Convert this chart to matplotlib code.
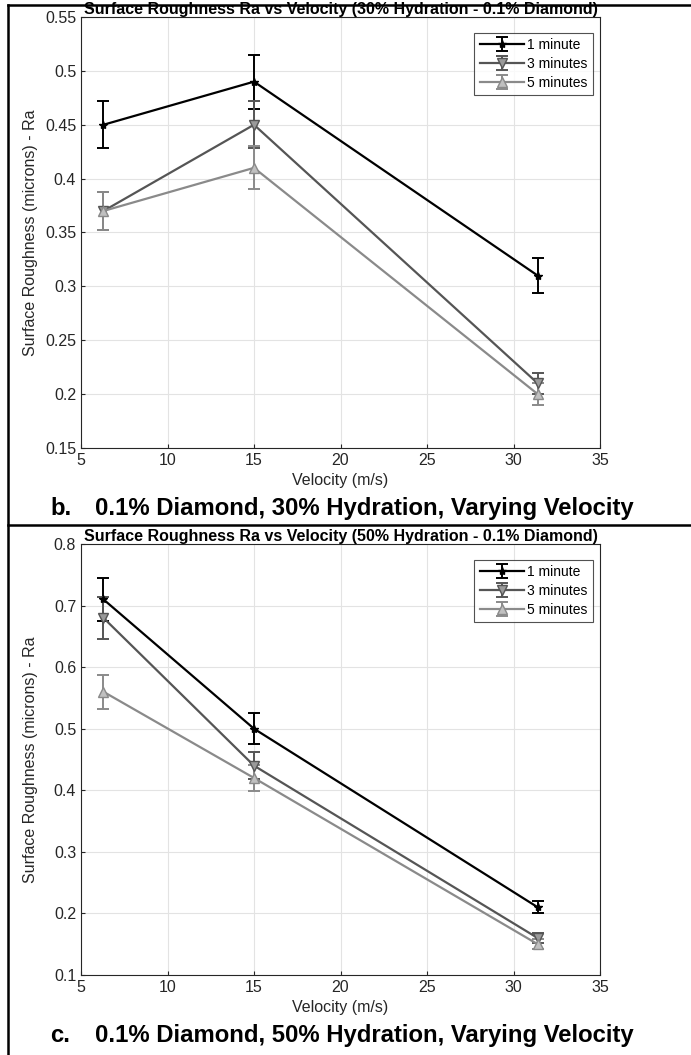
import matplotlib.pyplot as plt
from matplotlib.lines import Line2D

plt.rcParams['font.family'] = ['Liberation Sans', 'DejaVu Sans']

velocity = [6.3, 15, 31.4]
series_names = ["1 minute", "3 minutes", "5 minutes"]

# panel b: 30% hydration
ra_b_1 = [0.45, 0.49, 0.31]
ra_b_3 = [0.37, 0.45, 0.21]
ra_b_5 = [0.37, 0.41, 0.20]
err_b_1 = [0.022, 0.025, 0.016]
err_b_3 = [0.018, 0.022, 0.010]
err_b_5 = [0.018, 0.020, 0.010]

# panel c: 50% hydration
ra_c_1 = [0.71, 0.50, 0.21]
ra_c_3 = [0.68, 0.44, 0.16]
ra_c_5 = [0.56, 0.42, 0.15]
err_c_1 = [0.035, 0.025, 0.010]
err_c_3 = [0.034, 0.022, 0.008]
err_c_5 = [0.028, 0.021, 0.008]

yticks_b = [0.15, 0.2, 0.25, 0.3, 0.35, 0.4, 0.45, 0.5, 0.55]
yticks_c = [0.1, 0.2, 0.3, 0.4, 0.5, 0.6, 0.7, 0.8]
xticks = [5, 10, 15, 20, 25, 30, 35]

colors = ["#000000", "#555555", "#8a8a8a"]
faces = ["#000000", "#9a9a9a", "#c0c0c0"]
markers = ["*", "v", "^"]
msizes = [6, 7, 7]

W, H = 691, 1055
fig = plt.figure(figsize=(W / 100, H / 100), dpi=100)


def panel(ax, ys, errs, yticks, title):
    for i in range(3):
        ax.errorbar(velocity, ys[i], yerr=errs[i], color=colors[i], lw=1.6,
                    marker=markers[i], ms=msizes[i], mfc=faces[i], mec=colors[i],
                    capsize=4, capthick=1.4, elinewidth=1.4, label=series_names[i])
    ax.set_xlim(5, 35)
    ax.set_ylim(yticks[0], yticks[-1])
    ax.set_xticks(xticks)
    ax.set_yticks(yticks)
    ax.set_yticklabels(["%g" % t for t in yticks])
    ax.grid(True, color="#e3e3e3", lw=0.8)
    ax.tick_params(labelsize=11.5, colors="#262626", direction="in", length=3)
    for s in ax.spines.values():
        s.set_color("#262626")
    ax.set_title(title, fontsize=11.5, fontweight="bold", pad=2)
    ax.set_xlabel("Velocity (m/s)", fontsize=11.5, color="#262626")
    ax.set_ylabel("Surface Roughness (microns) - Ra", fontsize=11.5, color="#262626")
    ax.yaxis.set_label_coords(-43 / 519, 0.5)
    leg = ax.legend(loc="upper right", fontsize=10, fancybox=False,
                    edgecolor="#262626", handlelength=3.2, borderpad=0.4,
                    labelspacing=0.35, handletextpad=0.2,
                    bbox_to_anchor=(1.0, 0.98))
    leg.get_frame().set_linewidth(0.8)


ax1 = fig.add_axes([81 / W, 1 - 448 / H, 519 / W, 431 / H])
panel(ax1, [ra_b_1, ra_b_3, ra_b_5], [err_b_1, err_b_3, err_b_5], yticks_b,
      "Surface Roughness Ra vs Velocity (30% Hydration - 0.1% Diamond)")

ax2 = fig.add_axes([81 / W, 1 - 975 / H, 519 / W, 431 / H])
panel(ax2, [ra_c_1, ra_c_3, ra_c_5], [err_c_1, err_c_3, err_c_5], yticks_c,
      "Surface Roughness Ra vs Velocity (50% Hydration - 0.1% Diamond)")

# captions
cap_size = 17.2
fig.text(50 / W, 1 - 515 / H, "b.", fontsize=cap_size, fontweight="bold", va="baseline")
fig.text(95 / W, 1 - 515 / H, "0.1% Diamond, 30% Hydration, Varying Velocity",
         fontsize=cap_size, fontweight="bold", va="baseline")
fig.text(50 / W, 1 - 1042 / H, "c.", fontsize=cap_size, fontweight="bold", va="baseline")
fig.text(95 / W, 1 - 1042 / H, "0.1% Diamond, 50% Hydration, Varying Velocity",
         fontsize=cap_size, fontweight="bold", va="baseline")

# table borders
fig.add_artist(Line2D([8 / W, 1], [1 - 5 / H, 1 - 5 / H], color="black", lw=1.8))
fig.add_artist(Line2D([8 / W, 8 / W], [0, 1 - 5 / H], color="black", lw=1.8))
fig.add_artist(Line2D([8 / W, 1], [1 - 525 / H, 1 - 525 / H], color="black", lw=1.8))

fig.savefig("out.png", dpi=100)
